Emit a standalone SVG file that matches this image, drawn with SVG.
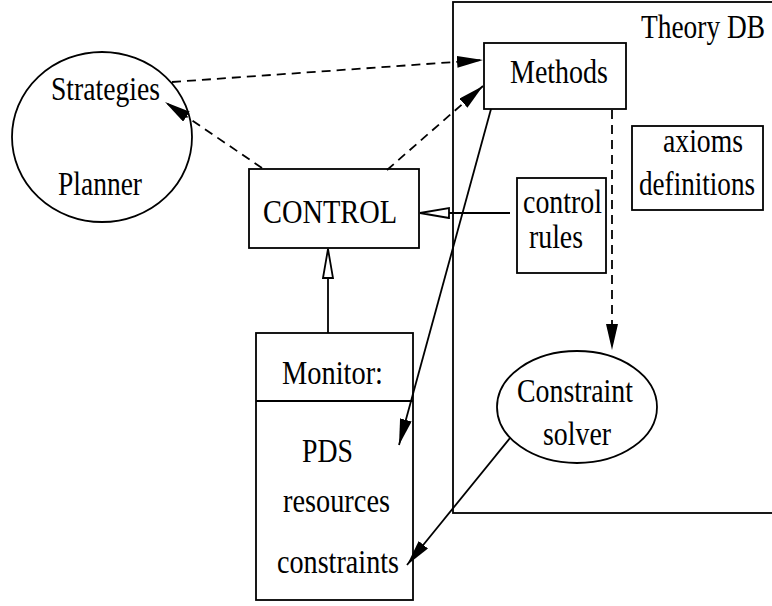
<svg xmlns="http://www.w3.org/2000/svg" width="772" height="606" viewBox="0 0 772 606">
<style>
.s{fill:none;stroke:#000;stroke-width:1.8}
.d{fill:none;stroke:#000;stroke-width:1.8;stroke-dasharray:9 6}
text{font-family:"Liberation Serif","Times New Roman",serif;font-size:34px;fill:#000}
</style>
<defs>
<marker id="fa" markerUnits="userSpaceOnUse" markerWidth="30" markerHeight="14" refX="26" refY="6" orient="auto">
<path d="M0,0 L26,6 L0,12 Z" fill="#000"/>
</marker>
<marker id="oa" markerUnits="userSpaceOnUse" markerWidth="32" markerHeight="14" refX="30" refY="6" orient="auto">
<path d="M1,1 L30,6 L1,11 Z" fill="#fff" stroke="#000" stroke-width="1.8"/>
</marker>
</defs>
<g id="theorydb">
<rect class="s" x="453" y="2" width="330" height="511"/>
<text x="641" y="38" textLength="124" lengthAdjust="spacingAndGlyphs">Theory DB</text>
</g>
<g id="planner">
<ellipse class="s" cx="102" cy="137" rx="90" ry="85"/>
<text x="51" y="100" textLength="109" lengthAdjust="spacingAndGlyphs">Strategies</text>
<text x="58" y="195" textLength="84" lengthAdjust="spacingAndGlyphs">Planner</text>
</g>
<g id="control">
<rect class="s" x="249" y="169" width="170" height="79"/>
<text x="263" y="223" textLength="134" lengthAdjust="spacingAndGlyphs">CONTROL</text>
</g>
<g id="methods">
<rect class="s" x="484" y="43" width="142" height="66"/>
<text x="510" y="83" textLength="98" lengthAdjust="spacingAndGlyphs">Methods</text>
</g>
<g id="axioms">
<rect class="s" x="632" y="126" width="131" height="84"/>
<text x="663" y="152" textLength="80" lengthAdjust="spacingAndGlyphs">axioms</text>
<text x="639" y="195" textLength="116" lengthAdjust="spacingAndGlyphs">definitions</text>
</g>
<g id="controlrules">
<rect class="s" x="517" y="178" width="89" height="95"/>
<text x="523" y="213" textLength="79" lengthAdjust="spacingAndGlyphs">control</text>
<text x="529" y="248" textLength="54" lengthAdjust="spacingAndGlyphs">rules</text>
</g>
<g id="solver">
<ellipse class="s" cx="577" cy="407" rx="80" ry="56"/>
<text x="517" y="402" textLength="116" lengthAdjust="spacingAndGlyphs">Constraint</text>
<text x="543" y="445" textLength="68" lengthAdjust="spacingAndGlyphs">solver</text>
</g>
<g id="monitor">
<rect class="s" x="256" y="333" width="157" height="267"/>
<line class="s" x1="256" y1="401" x2="413" y2="401"/>
<text x="282" y="384" textLength="101" lengthAdjust="spacingAndGlyphs">Monitor:</text>
<text x="302" y="462" textLength="51" lengthAdjust="spacingAndGlyphs">PDS</text>
<text x="283" y="512" textLength="107" lengthAdjust="spacingAndGlyphs">resources</text>
<text x="277" y="573" textLength="122" lengthAdjust="spacingAndGlyphs">constraints</text>
</g>
<g id="connectors">
<line class="d" x1="172" y1="82" x2="483" y2="60" marker-end="url(#fa)"/>
<line class="d" x1="262" y1="168" x2="165" y2="102" marker-end="url(#fa)"/>
<line class="d" x1="387" y1="170" x2="483" y2="86" marker-end="url(#fa)"/>
<line class="d" x1="612" y1="110" x2="612" y2="350" marker-end="url(#fa)"/>
<line class="s" x1="491" y1="109" x2="399" y2="445" marker-end="url(#fa)"/>
<line class="s" x1="510" y1="438" x2="407" y2="565" marker-end="url(#fa)"/>
<line class="s" x1="510" y1="213" x2="420" y2="213" marker-end="url(#oa)"/>
<line class="s" x1="328" y1="333" x2="328" y2="249" marker-end="url(#oa)"/>
</g>
</svg>
